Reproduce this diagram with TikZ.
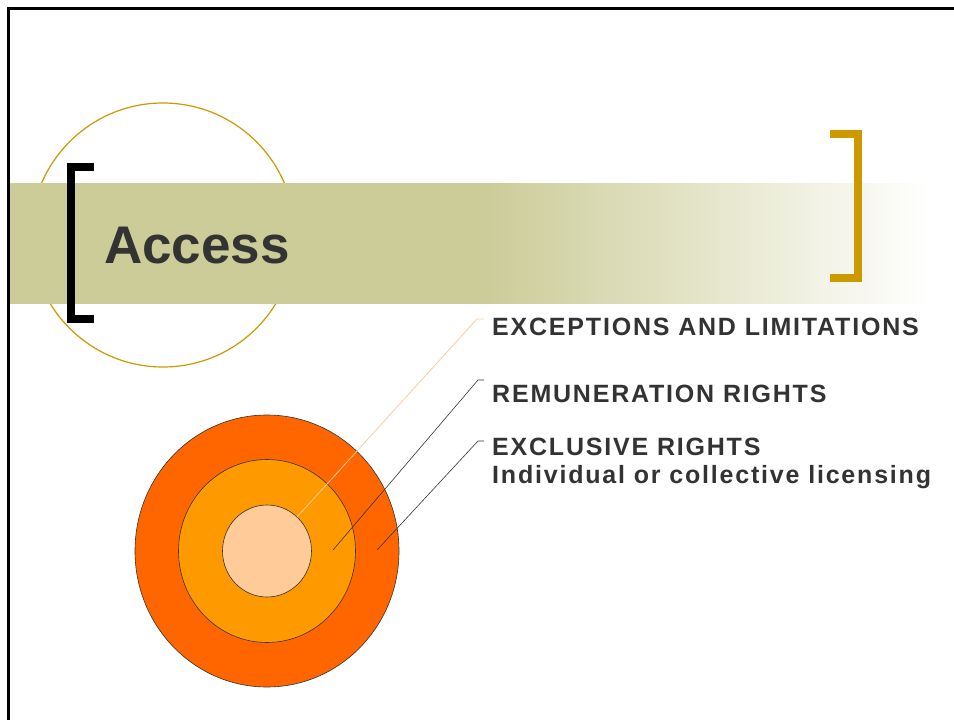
\documentclass[tikz,border=0pt]{standalone}
\usepackage{fontspec}
\setmainfont{Liberation Sans}
\definecolor{band}{HTML}{CCCC99}
\definecolor{gold}{HTML}{CC9900}
\definecolor{ringA}{HTML}{FF6600}
\definecolor{ringB}{HTML}{FF9900}
\definecolor{ringC}{HTML}{FFCC99}
\definecolor{txt}{HTML}{333333}
\pgfdeclarehorizontalshading{bandfade}{100bp}{color(0bp)=(band); color(51bp)=(band); color(75bp)=(white); color(100bp)=(white)}
\begin{document}
\begin{tikzpicture}[x=1pt,y=-1pt,
  ring/.style={draw=txt,line width=0.6pt},
  leader/.style={draw=txt,line width=0.6pt},
  lbl/.style={anchor=base west,inner sep=0pt,text=txt,
    font={\fontsize{25}{28}\selectfont\bfseries\addfontfeature{LetterSpace=7.2}}}]
\useasboundingbox (0,0) rectangle (954,720);
\fill[white] (0,0) rectangle (954,720);
% frame
\draw[line width=3pt] (8.5,740) -- (8.5,8.5) -- (970,8.5);
% gold circle
\draw[gold,line width=1.2pt] (163,235) circle[radius=132];
% band
\shade[shading=bandfade] (10,183) rectangle (930,303);
% brackets
\draw[line width=8pt,line cap=butt,line join=miter] (94,167) -- (70.5,167) -- (70.5,319) -- (94,319);
\draw[gold,line width=8pt,line cap=butt,line join=miter] (830,134) -- (858,134) -- (858,278) -- (830,278);
% title
\node[anchor=base west,inner sep=0pt,text=txt,font={\fontsize{53}{60}\selectfont\bfseries}] (title) at (104,263) {Access};
% rings
\filldraw[ring,fill=ringA] (267,551) ellipse[x radius=132,y radius=136];
\filldraw[ring,fill=ringB] (267,551) ellipse[x radius=88.5,y radius=91.5];
\filldraw[ring,fill=ringC] (267,551) ellipse[x radius=44.5,y radius=46];
% labels
\node[lbl] (exc) at (492,335) {EXCEPTIONS AND LIMITATIONS};
\node[lbl] (rem) at (492,402) {REMUNERATION RIGHTS};
\node[lbl,align=left] (exl) at (492,483) {EXCLUSIVE RIGHTS\\Individual or collective licensing};
% leaders
\coordinate (p1) at (297,517);
\coordinate (e1) at (477,319);
\coordinate (s1) at (484,319);
\coordinate (p2) at (333,550);
\coordinate (e2) at (478,380);
\coordinate (s2) at (484,380);
\coordinate (p3) at (377,550);
\coordinate (e3) at (478,441);
\coordinate (s3) at (484,441);
\draw[ringC,line width=0.8pt] (p1) -- (e1) -- (s1);
\draw[leader] (p2) -- (e2) -- (s2);
\draw[leader] (p3) -- (e3) -- (s3);
\end{tikzpicture}
\end{document}
